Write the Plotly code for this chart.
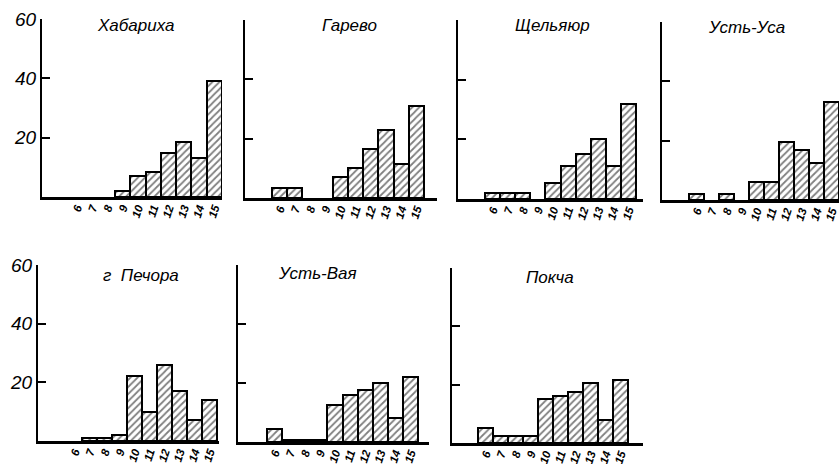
import plotly.graph_objects as go

W, H = 839, 464

categories = [6, 7, 8, 9, 10, 11, 12, 13, 14, 15]
tick_labels = ["6", "7", "8", "9", "10", "11", "12", "13", "14", "15"]
y_ticks = [20, 40, 60]
y_tick_labels = ["20", "40", "60"]

station_names = ["Хабариха", "Гарево", "Щельяюр", "Усть-Уса",
                 "г  Печора", "Усть-Вая", "Покча"]

habarikha = [None, None, None, 2, 7, 8.5, 15, 18.5, 13, 39]
garevo = [3.5, 3.5, None, None, 7, 10, 16.5, 23, 11.5, 31]
shchelyayur = [2, 2, 2, None, 5.5, 11, 15, 20, 11, 32]
ust_usa = [2, None, 2, None, 6, 6, 19.5, 17, 12.5, 33]
pechora = [None, 1, 1, 2, 22, 10, 26, 17, 7, 14]
ust_vaya = [4.5, 0.7, 0.7, 0.7, 12.5, 16, 17.5, 20, 8, 22]
pokcha = [5, 2.5, 2.5, 2.5, 15, 16, 17.5, 20.5, 8, 21.5]

series = [habarikha, garevo, shchelyayur, ust_usa, pechora, ust_vaya, pokcha]

# panel geometry in pixels: axis x, first bar left x, line end x, category width,
# y of 60, y of 0, title x, title y
panels = [
    (42, 69, 222, 15.3, 19, 197, 135, 25),
    (245, 272, 437, 15.2, 20, 198, 349, 25),
    (458, 485, 643, 15.1, 20, 199, 552, 25),
    (662, 689, 839, 15.0, 22, 200, 746, 27),
    (38, 67, 219, 15.0, 265, 441, 141, 275),
    (238, 267, 429, 15.1, 265, 442, 317, 273),
    (452, 478, 643, 15.0, 268, 443, 550, 277),
]

FONT = "Liberation Sans Narrow, Liberation Sans, Arial"

fig = go.Figure()
annotations = []
for i, (vals, name, g) in enumerate(zip(series, station_names, panels)):
    ax, x6, xend, cw, y60, y0, tx, ty = g
    idx = "" if i == 0 else str(i + 1)
    lo = 5.5 - (x6 - ax) / cw
    hi = lo + (xend - ax) / cw
    fig.add_trace(go.Bar(
        x=categories, y=vals, xaxis="x" + idx, yaxis="y" + idx,
        width=1.0,
        marker=dict(color="white", line=dict(color="black", width=2),
                    pattern=dict(shape="/", fgcolor="black", bgcolor="white",
                                 size=5, solidity=0.35)),
        showlegend=False,
        cliponaxis=False,
    ))
    first_col = i in (0, 4)
    fig.update_layout(**{
        "xaxis" + idx: dict(
            domain=[ax / W, xend / W], range=[lo, hi], anchor="y" + idx,
            automargin=False,
            showline=True, linecolor="black", linewidth=2.5,
            showgrid=False, zeroline=False, ticks="",
            tickmode="array", tickvals=categories, ticktext=tick_labels,
            tickangle=-72, ticklabelstandoff=-3, ticklabeloverflow="allow",
            tickfont=dict(family=FONT, size=11.5, color="black",
                          style="italic", weight="bold"),
        ),
        "yaxis" + idx: dict(
            domain=[1 - y0 / H, 1 - y60 / H], range=[0, 60], anchor="x" + idx,
            automargin=False,
            showline=True, linecolor="black", linewidth=2,
            showgrid=False, zeroline=False,
            ticks="inside", ticklen=8, tickwidth=1.5, tickcolor="black",
            tickmode="array", tickvals=y_ticks, ticktext=y_tick_labels,
            showticklabels=first_col,
            tickfont=dict(family=FONT, size=19, color="black", style="italic"),
        ),
    })
    annotations.append(dict(
        x=tx / W, y=1 - ty / H, xref="paper", yref="paper",
        text=name, showarrow=False, xanchor="center", yanchor="middle",
        font=dict(family=FONT, size=17, color="black", style="italic"),
    ))

fig.update_layout(
    width=W, height=H, margin=dict(l=0, r=0, t=0, b=0),
    paper_bgcolor="white", plot_bgcolor="white",
    bargap=0, annotations=annotations,
)
fig.write_html("out.html", config={"displayModeBar": False},
               post_script="document.body.style.margin='0';document.body.style.overflow='hidden';")
